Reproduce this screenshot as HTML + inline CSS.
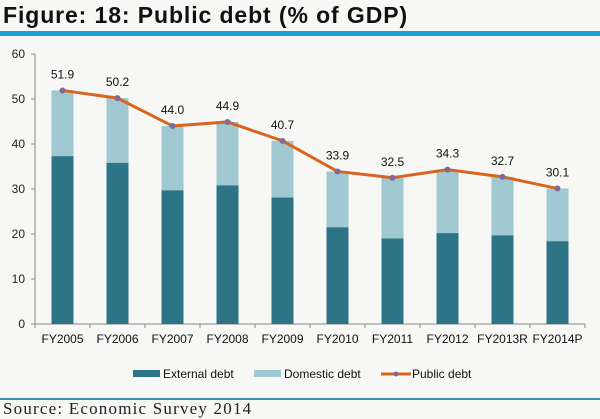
<!DOCTYPE html>
<html><head><meta charset="utf-8"><style>
html,body{margin:0;padding:0;background:#f7f7f5;}
body{width:600px;height:417px;overflow:hidden;position:relative;font-family:"Liberation Sans",sans-serif;}
#title{position:absolute;left:3px;top:2px;font-size:23px;font-weight:bold;color:#111;letter-spacing:0.9px}
#rule1{position:absolute;left:0;top:31px;width:600px;height:5px;background:#1aa0d6}
#rule2{position:absolute;left:0;top:398px;width:600px;height:2px;background:#3d93ae}
#src{position:absolute;left:3px;top:399px;font-family:"Liberation Serif",serif;font-size:17px;color:#222;letter-spacing:1.2px}
</style></head><body>
<div id="title">Figure: 18: Public debt (% of GDP)</div>
<div id="rule1"></div>
<svg id="chart" width="600" height="417" style="position:absolute;left:0;top:0"></svg>
<div id="rule2"></div>
<div id="src">Source: Economic Survey 2014</div>
<script>
const categories=["FY2005","FY2006","FY2007","FY2008","FY2009","FY2010","FY2011","FY2012","FY2013R","FY2014P"];
const externalDebt=[37.3,35.8,29.7,30.8,28.1,21.5,19.0,20.2,19.7,18.4];
const publicDebt=[51.9,50.2,44.0,44.9,40.7,33.9,32.5,34.3,32.7,30.1];
const publicLabels=["51.9","50.2","44.0","44.9","40.7","33.9","32.5","34.3","32.7","30.1"];
const yTicks=[0,10,20,30,40,50,60];
const NS="http://www.w3.org/2000/svg";
const svg=document.getElementById('chart');
const x0=35,x1=585,y0=324,yTop=54,yMax=60;
const bw=(x1-x0)/categories.length;
const X=i=>x0+bw*(i+0.5);
const Y=v=>y0-(v/yMax)*(y0-yTop);
function mk(t,a){const e=document.createElementNS(NS,t);for(const k in a)e.setAttribute(k,a[k]);svg.appendChild(e);return e;}
let e;
e=mk('line',{x1:x0,y1:yTop,x2:x0,y2:y0,stroke:'#888','stroke-width':1});

e=mk('line',{x1:x0,y1:y0,x2:x1,y2:y0,stroke:'#888','stroke-width':1});

yTicks.forEach(t=>{
 e=mk('line',{x1:x0-4,y1:Y(t),x2:x0,y2:Y(t),stroke:'#888'});
 
 e=mk('text',{x:x0-10,y:Y(t)+4,'text-anchor':'end','font-size':12,fill:'#222'});e.textContent=t;
 
});
for(let i=0;i<=categories.length;i++){
 e=mk('line',{x1:x0+bw*i,y1:y0,x2:x0+bw*i,y2:y0+4,stroke:'#888'});
 
}
categories.forEach((c,i)=>{
 const w=22;
 e=mk('rect',{x:X(i)-w/2,y:Y(publicDebt[i]),width:w,height:Y(externalDebt[i])-Y(publicDebt[i]),fill:'#a0c8d1'});
 
 e=mk('rect',{x:X(i)-w/2,y:Y(externalDebt[i]),width:w,height:y0-Y(externalDebt[i]),fill:'#2e7487'});
 
 e=mk('text',{x:X(i),y:y0+19,'text-anchor':'middle','font-size':12,fill:'#111'});e.textContent=c;
 
});
e=mk('polyline',{points:publicDebt.map((v,i)=>X(i)+','+Y(v)).join(' '),fill:'none',stroke:'#d8651f','stroke-width':3});

publicDebt.forEach((v,i)=>{
 e=mk('circle',{cx:X(i),cy:Y(v),r:3,fill:'#7d6b96'});
 
 e=mk('text',{x:X(i),y:Y(v)-12,'text-anchor':'middle','font-size':12,fill:'#111'});e.textContent=publicLabels[i];
 
});
// legend
e=mk('rect',{x:133,y:370,width:27,height:7,fill:'#2e7487'});

e=mk('text',{x:163,y:378,'font-size':12,fill:'#111'});e.textContent='External debt';

e=mk('rect',{x:254,y:370,width:27,height:7,fill:'#a0c8d1'});

e=mk('text',{x:284,y:378,'font-size':12,fill:'#111'});e.textContent='Domestic debt';

e=mk('line',{x1:381,y1:374,x2:411,y2:374,stroke:'#d8651f','stroke-width':3});

e=mk('circle',{cx:396,cy:374,r:2.5,fill:'#7d6b96'});

e=mk('text',{x:412,y:378,'font-size':12,fill:'#111'});e.textContent='Public debt';

</script>
</body></html>
